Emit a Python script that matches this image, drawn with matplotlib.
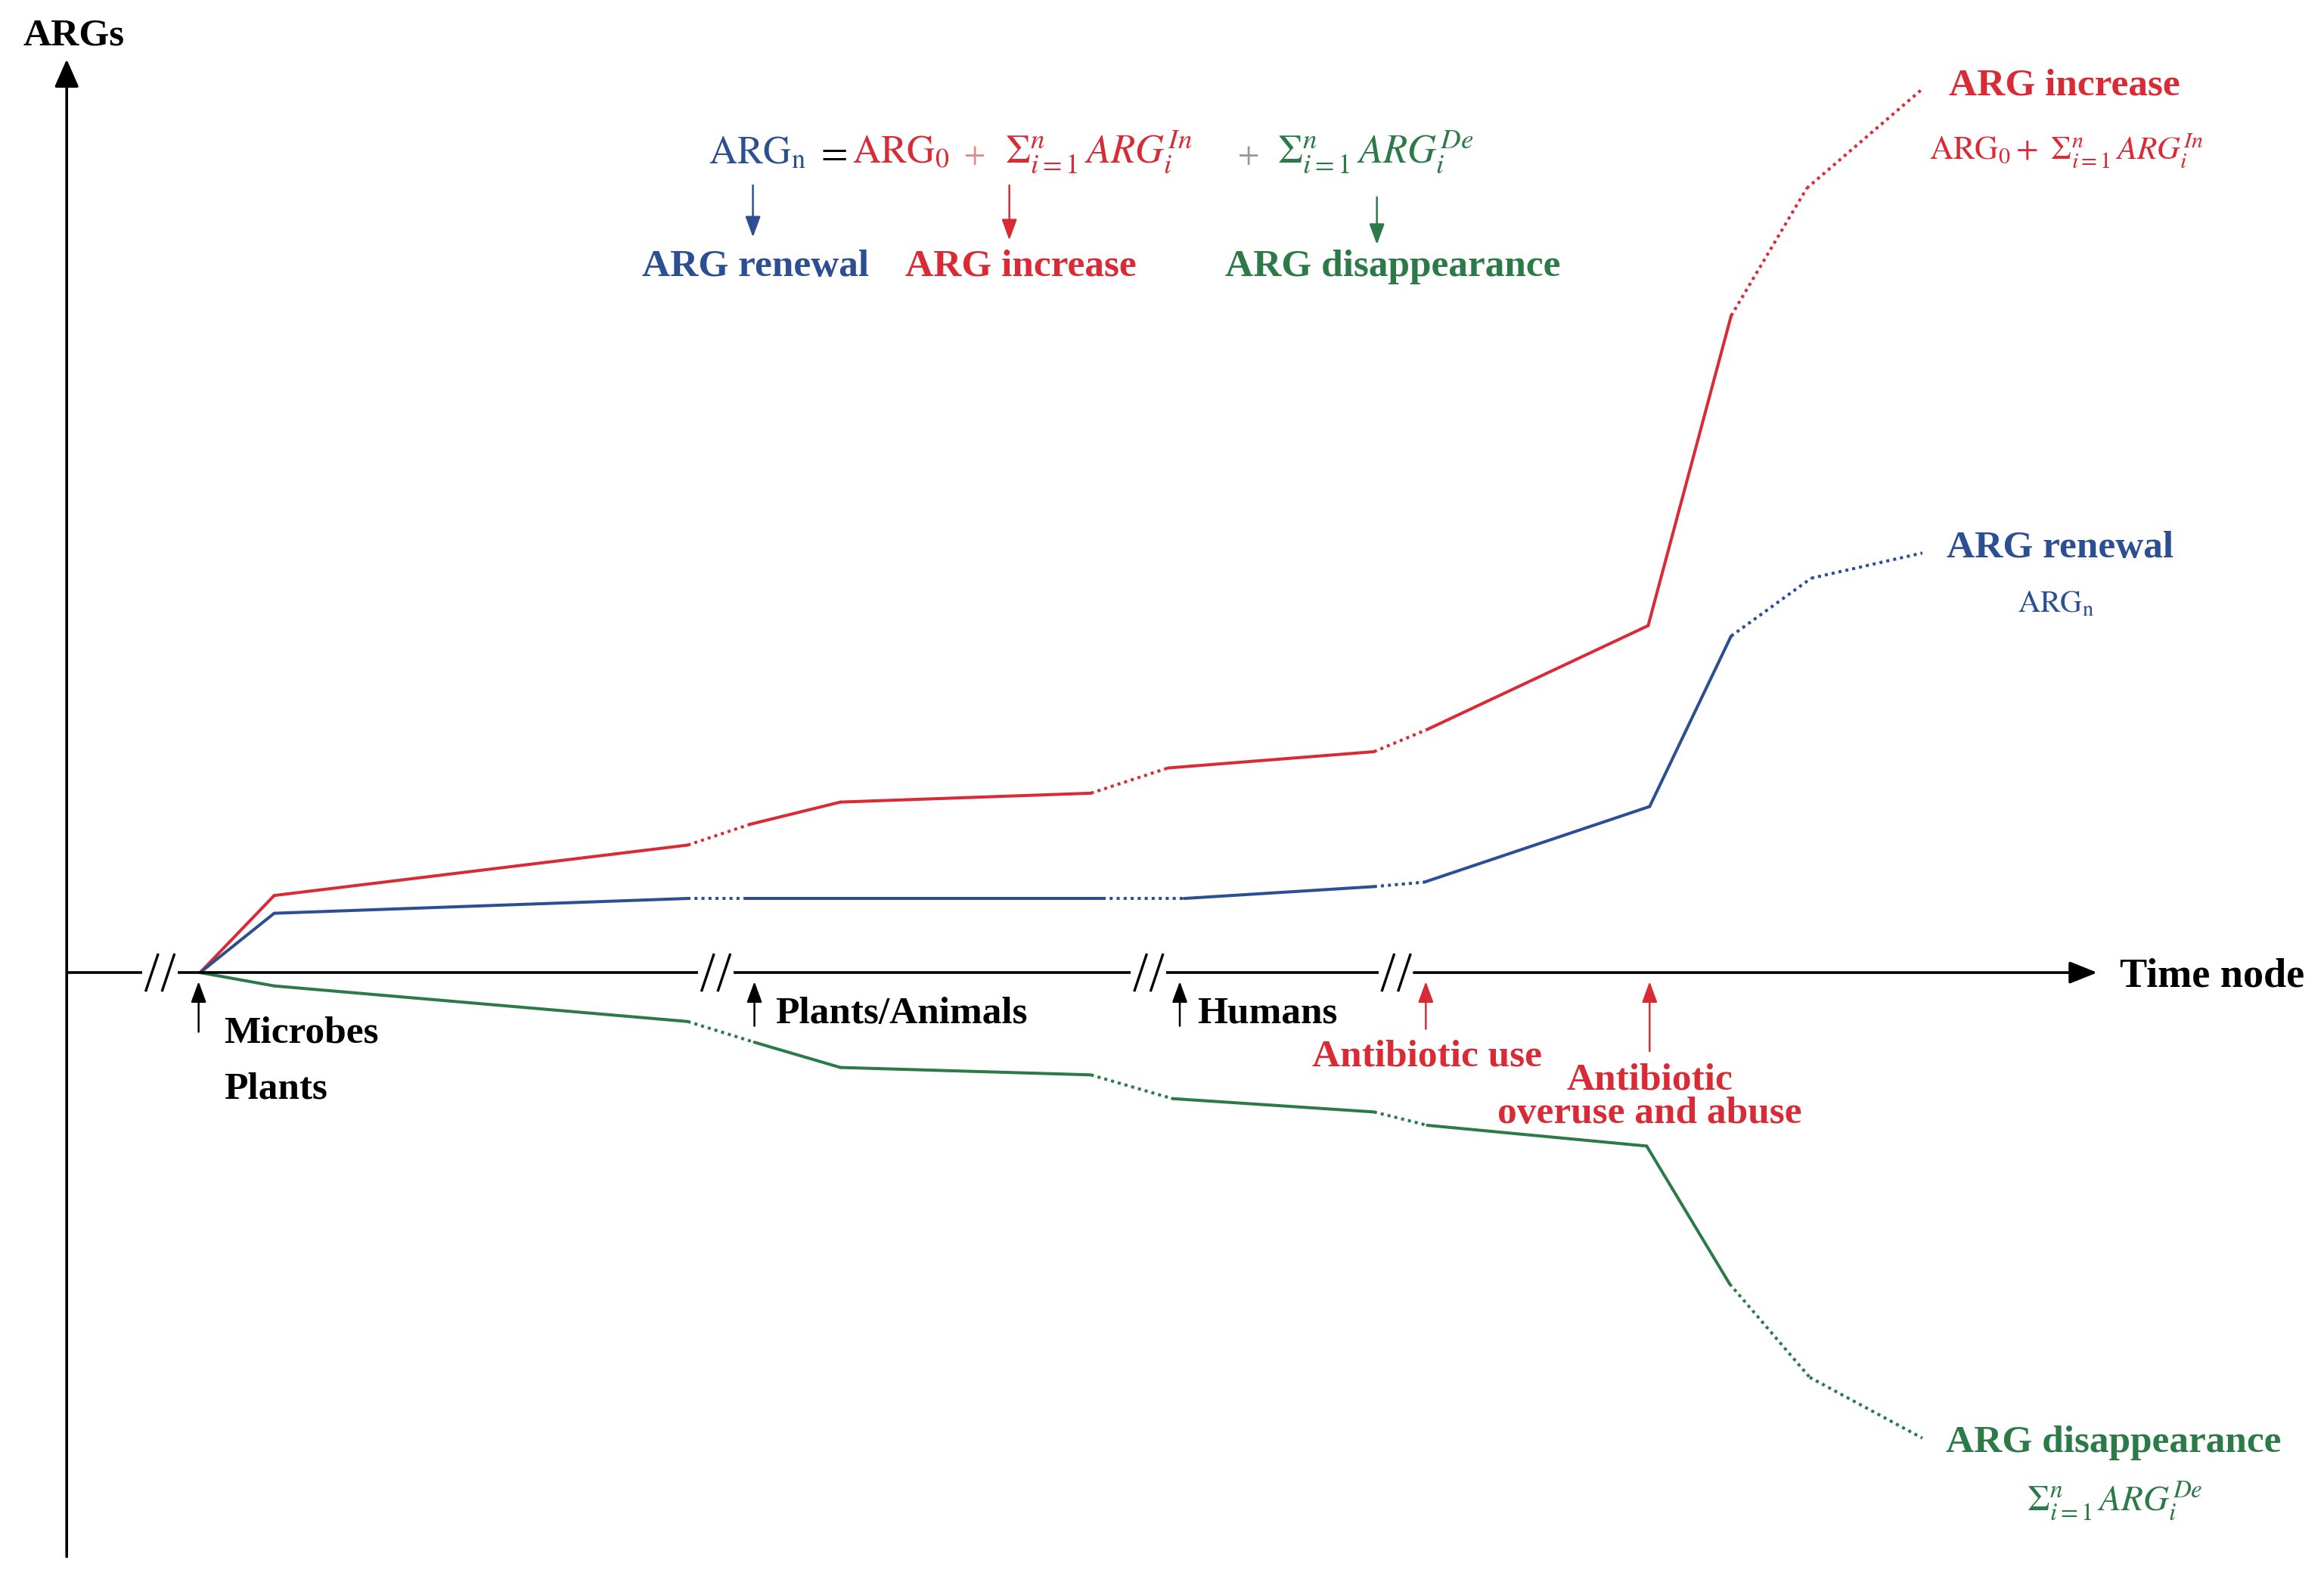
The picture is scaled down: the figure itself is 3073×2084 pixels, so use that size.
import matplotlib
matplotlib.use("Agg")
import matplotlib.pyplot as plt

plt.rcParams['font.family'] = ['Liberation Serif', 'DejaVu Serif']
plt.rcParams['mathtext.fontset'] = 'stix'

RED = '#D92B36'
BLUE = '#2C4F93'
GREEN = '#2B7A47'

# ---- schematic data: time position vs ARG level ----
red_t = [90, 140, 419, 461, 522, 691, 743, 882, 918, 1067, 1123, 1174, 1252]
red_v = [0, 52, 86, 100, 115, 121, 138, 149, 164, 234, 443, 529, 596]
blue_t = [90, 140, 419, 458, 699, 754, 882, 916, 1068, 1123, 1177, 1252]
blue_v = [0, 40, 50, 50, 50, 50, 58, 61, 112, 227, 266, 283]
green_t = [90, 140, 419, 464, 522, 691, 746, 882, 918, 1066, 1122, 1176, 1252]
green_v = [0, -9, -33, -47, -64, -69, -85, -94, -103, -117, -210, -273, -314]

# segment styles (solid / dotted) between consecutive points
red_seg = ['-', '-', ':', '-', '-', ':', '-', ':', '-', '-', ':', ':']
blue_seg = ['-', '-', ':', '-', ':', '-', ':', '-', '-', ':', ':']
green_seg = ['-', '-', ':', '-', '-', ':', '-', ':', '-', '-', ':', ':']

breaks = [63, 438, 730, 897]

fig = plt.figure(figsize=(30.73, 20.84), dpi=100)
ax = fig.add_axes([0, 0, 1, 1])
ax.set_xlim(-45, 1523)
ax.set_ylim(-407, 656)
ax.axis('off')

LW = 2.9


def draw_series(t, v, seg, color):
    for i in range(len(seg)):
        if seg[i] == '-':
            ax.plot(t[i:i+2], v[i:i+2], color=color, lw=LW, solid_capstyle='round')
        else:
            ax.plot(t[i:i+2], v[i:i+2], color=color, lw=LW, linestyle=(0, (1, 1.3)))


draw_series(red_t, red_v, red_seg, RED)
draw_series(blue_t, blue_v, blue_seg, BLUE)
draw_series(green_t, green_v, green_seg, GREEN)

# y axis
ax.annotate('', xy=(0, 616), xytext=(0, -394),
            arrowprops=dict(arrowstyle='-|>,head_length=0.5,head_width=0.22', lw=2.6,
                            color='black', mutation_scale=45, shrinkA=0, shrinkB=0))
# x axis with breaks
edges = [0]
for b in breaks:
    edges += [b - 12, b + 12]
edges.append(1370)
for k in range(0, len(edges) - 2, 2):
    ax.plot([edges[k], edges[k+1]], [0, 0], color='black', lw=2.6, solid_capstyle='butt')
ax.annotate('', xy=(1370, 0), xytext=(edges[-2], 0),
            arrowprops=dict(arrowstyle='-|>,head_length=0.5,head_width=0.2', lw=2.6,
                            color='black', mutation_scale=45, shrinkA=0, shrinkB=0))
for b in breaks:
    for d in (-5.5, 5.5):
        ax.plot([b + d - 4, b + d + 4], [-12, 12], color='black', lw=2.4)

ax.text(5, 632, 'ARGs', fontsize=37, fontweight='bold', ha='center', va='center')
ax.text(1385, -3, 'Time node', fontsize=39, fontweight='bold', ha='left', va='center')


def v_arrow(x, y0, y1, color, lw=1.8):
    ax.annotate('', xy=(x, y1), xytext=(x, y0),
                arrowprops=dict(arrowstyle='-|>,head_length=0.6,head_width=0.22', lw=lw,
                                color=color, mutation_scale=28, shrinkA=0, shrinkB=0))


# event labels under the time axis
v_arrow(89, -40, -6, 'black')
ax.text(106, -41, 'Microbes', fontsize=37, fontweight='bold', va='center')
ax.text(106, -79, 'Plants', fontsize=37, fontweight='bold', va='center')
v_arrow(464, -36, -6, 'black')
ax.text(478, -28, 'Plants/Animals', fontsize=37, fontweight='bold', va='center')
v_arrow(751, -36, -6, 'black')
ax.text(763, -28, 'Humans', fontsize=37, fontweight='bold', va='center')
v_arrow(917, -38, -6, RED)
ax.text(918, -57, 'Antibiotic use', fontsize=37, fontweight='bold', color=RED, ha='center', va='center')
v_arrow(1068, -53, -6, RED)
ax.text(1068, -84, 'Antibiotic\noveruse and abuse', fontsize=37, fontweight='bold', color=RED,
        ha='center', va='center', linespacing=0.95)

# formula at top
fs = 37
base = 546
ax.text(433, base, r'$\mathrm{ARG_n}$', fontsize=fs, color=BLUE, va='baseline')
ax.text(505, base, r'$=$', fontsize=fs, color='black', va='baseline')
ax.text(530, base, r'$\mathrm{ARG_0}$', fontsize=fs, color=RED, va='baseline')
ax.text(605, base, r'$+$', fontsize=fs * 0.8, color='#E08A8F', va='baseline')
ax.text(633, base, r'$\Sigma_{i=1}^{n}\, ARG_i^{In}$', fontsize=fs + 1, color=RED, va='baseline')
ax.text(790, base, r'$+$', fontsize=fs * 0.8, color='#999999', va='baseline')
ax.text(817, base, r'$\Sigma_{i=1}^{n}\, ARG_i^{De}$', fontsize=fs + 1, color=GREEN, va='baseline')

v_arrow(463, 531, 496, BLUE)
v_arrow(636, 531, 494, RED)
v_arrow(884, 523, 491, GREEN)
ax.text(465, 476, 'ARG renewal', fontsize=37, fontweight='bold', color=BLUE, ha='center', va='center')
ax.text(644, 476, 'ARG increase', fontsize=37, fontweight='bold', color=RED, ha='center', va='center')
ax.text(895, 476, 'ARG disappearance', fontsize=37, fontweight='bold', color=GREEN, ha='center', va='center')

# right side end labels
ax.text(1348, 598, 'ARG increase', fontsize=37, fontweight='bold', color=RED, ha='center', va='center')
ax.text(1349, 554, r'$\mathrm{ARG_0} + \ \Sigma_{i=1}^{n}\, ARG_i^{In}$', fontsize=31, color=RED,
        ha='center', va='center')
ax.text(1345, 286, 'ARG renewal', fontsize=37, fontweight='bold', color=BLUE, ha='center', va='center')
ax.text(1342, 248, r'$\mathrm{ARG_n}$', fontsize=29, color=BLUE, ha='center', va='center')
ax.text(1381, -317, 'ARG disappearance', fontsize=37, fontweight='bold', color=GREEN, ha='center', va='center')
ax.text(1382, -357, r'$\Sigma_{i=1}^{n}\, ARG_i^{De}$', fontsize=34, color=GREEN, ha='center', va='center')

fig.savefig('out.png', dpi=100)
